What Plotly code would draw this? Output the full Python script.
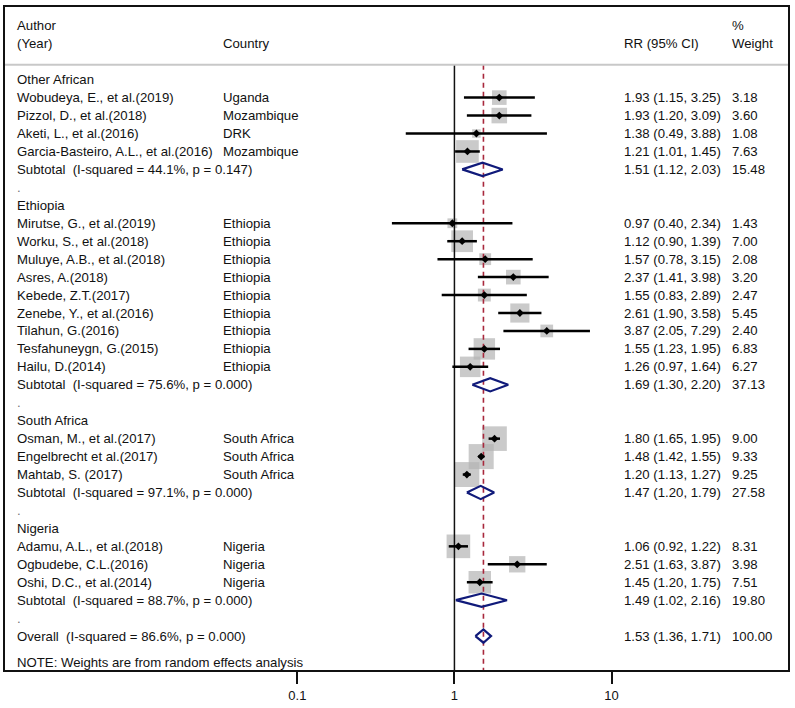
import plotly.graph_objects as go
import math

# ---------------- data ----------------
groups = ["Other African", "Ethiopia", "South Africa", "Nigeria"]

authors = [
    ["Wobudeya, E., et al.(2019)", "Pizzol, D., et al.(2018)", "Aketi, L., et al.(2016)",
     "Garcia-Basteiro, A.L., et al.(2016)"],
    ["Mirutse, G., et al.(2019)", "Worku, S., et al.(2018)", "Muluye, A.B., et al.(2018)",
     "Asres, A.(2018)", "Kebede, Z.T.(2017)", "Zenebe, Y., et al.(2016)", "Tilahun, G.(2016)",
     "Tesfahuneygn, G.(2015)", "Hailu, D.(2014)"],
    ["Osman, M., et al.(2017)", "Engelbrecht et al.(2017)", "Mahtab, S. (2017)"],
    ["Adamu, A.L., et al.(2018)", "Ogbudebe, C.L.(2016)", "Oshi, D.C., et al.(2014)"],
]
countries = [
    ["Uganda", "Mozambique", "DRK", "Mozambique"],
    ["Ethiopia"] * 9,
    ["South Africa"] * 3,
    ["Nigeria"] * 3,
]
rr = [
    [1.93, 1.93, 1.38, 1.21],
    [0.97, 1.12, 1.57, 2.37, 1.55, 2.61, 3.87, 1.55, 1.26],
    [1.80, 1.48, 1.20],
    [1.06, 2.51, 1.45],
]
lo = [
    [1.15, 1.20, 0.49, 1.01],
    [0.40, 0.90, 0.78, 1.41, 0.83, 1.90, 2.05, 1.23, 0.97],
    [1.65, 1.42, 1.13],
    [0.92, 1.63, 1.20],
]
hi = [
    [3.25, 3.09, 3.88, 1.45],
    [2.34, 1.39, 3.15, 3.98, 2.89, 3.58, 7.29, 1.95, 1.64],
    [1.95, 1.55, 1.27],
    [1.22, 3.87, 1.75],
]
weight = [
    [3.18, 3.60, 1.08, 7.63],
    [1.43, 7.00, 2.08, 3.20, 2.47, 5.45, 2.40, 6.83, 6.27],
    [9.00, 9.33, 9.25],
    [8.31, 3.98, 7.51],
]
sub_i2 = [44.1, 75.6, 97.1, 88.7]
sub_p = [0.147, 0.000, 0.000, 0.000]
sub_rr = [1.51, 1.69, 1.47, 1.49]
sub_lo = [1.12, 1.30, 1.20, 1.02]
sub_hi = [2.03, 2.20, 1.79, 2.16]
sub_w = [15.48, 37.13, 27.58, 19.80]

overall_i2, overall_p = 86.6, 0.000
overall_rr, overall_lo, overall_hi, overall_w = 1.53, 1.36, 1.71, 100.00

tick_vals = [0.1, 1, 10]
tick_text = ["0.1", "1", "10"]

# ---------------- layout constants ----------------
W, H = 795, 708
ML, MR, MT, MB = 5, 6, 5, 37
PX_L, PX_R = ML, W - MR
ROW0_PX, ROW_H = 78, 18.03
X1_PX, DEC_PX = 455, 157.3


def px_to_paper(px):
    return (px - PX_L) / (PX_R - PX_L)


def py_to_row(py):
    return (py - ROW0_PX) / ROW_H


x_range = [(PX_L - X1_PX) / DEC_PX, (PX_R - X1_PX) / DEC_PX]
y_top = py_to_row(MT)
y_bot = py_to_row(H - MB)
sep_row = py_to_row(63)

COL_AUTH = px_to_paper(15)
COL_CTRY = px_to_paper(221)
COL_RR = px_to_paper(623)
COL_W = px_to_paper(731)

FONT = "Liberation Sans, Arial, sans-serif"
FS = 13.2
TXT = "#111111"

annotations = []


def txt(xp, y, s, color=TXT):
    annotations.append(dict(x=xp, y=y, xref="paper", yref="y", text=s, showarrow=False,
                            xanchor="left", yanchor="middle",
                            font=dict(family=FONT, size=FS, color=color)))


# headers
txt(COL_AUTH, py_to_row(24), "Author")
txt(COL_AUTH, py_to_row(42), "(Year)")
txt(COL_CTRY, py_to_row(42), "Country")
txt(COL_RR, py_to_row(42), "RR (95% CI)")
txt(COL_W, py_to_row(24), "%")
txt(COL_W, py_to_row(42), "Weight")

box_x, box_y, box_s = [], [], []
ci_x, ci_y = [], []
pt_x, pt_y = [], []
dia_x, dia_y = [], []
DH = 0.37


def diamond(est, l, h, y):
    dia_x.extend([l, est, h, est, l, None])
    dia_y.extend([y, y - DH, y, y + DH, y, None])


row = 0
for g in range(len(groups)):
    txt(COL_AUTH, row, groups[g])
    row += 1
    for k in range(len(authors[g])):
        txt(COL_AUTH, row, authors[g][k])
        txt(COL_CTRY, row, countries[g][k])
        txt(COL_RR, row, f"{rr[g][k]:.2f} ({lo[g][k]:.2f}, {hi[g][k]:.2f})")
        txt(COL_W, row, f"{weight[g][k]:.2f}")
        box_x.append(rr[g][k]); box_y.append(row)
        box_s.append(8.2 * math.sqrt(weight[g][k]))
        ci_x.extend([lo[g][k], hi[g][k], None]); ci_y.extend([row, row, None])
        pt_x.append(rr[g][k]); pt_y.append(row)
        row += 1
    txt(COL_AUTH, row, f"Subtotal  (I-squared = {sub_i2[g]:.1f}%, p = {sub_p[g]:.3f})")
    txt(COL_RR, row, f"{sub_rr[g]:.2f} ({sub_lo[g]:.2f}, {sub_hi[g]:.2f})")
    txt(COL_W, row, f"{sub_w[g]:.2f}")
    diamond(sub_rr[g], sub_lo[g], sub_hi[g], row)
    row += 1
    txt(COL_AUTH, row, ".", color="#777777")
    row += 1

txt(COL_AUTH, row, f"Overall  (I-squared = {overall_i2:.1f}%, p = {overall_p:.3f})")
txt(COL_RR, row, f"{overall_rr:.2f} ({overall_lo:.2f}, {overall_hi:.2f})")
txt(COL_W, row, f"{overall_w:.2f}")
diamond(overall_rr, overall_lo, overall_hi, row)
txt(COL_AUTH, py_to_row(663), "NOTE: Weights are from random effects analysis")

fig = go.Figure()
fig.add_trace(go.Scatter(x=box_x, y=box_y, mode="markers", hoverinfo="skip",
                         marker=dict(symbol="square", size=box_s, color="#b3b3b3",
                                     line=dict(width=0))))
fig.add_trace(go.Scatter(x=[1, 1], y=[sep_row, y_bot], mode="lines", hoverinfo="skip",
                         line=dict(color="#111111", width=1.5)))
fig.add_trace(go.Scatter(x=[overall_rr, overall_rr], y=[sep_row, y_bot], mode="lines",
                         hoverinfo="skip",
                         line=dict(color="#a8283c", width=1.6, dash="5px,4px")))
fig.add_trace(go.Scatter(x=ci_x, y=ci_y, mode="lines", hoverinfo="skip",
                         line=dict(color="#000000", width=2.5)))
fig.add_trace(go.Scatter(x=pt_x, y=pt_y, mode="markers", hoverinfo="skip",
                         marker=dict(symbol="diamond", size=6, color="#000000",
                                     line=dict(width=0))))
fig.add_trace(go.Scatter(x=dia_x, y=dia_y, mode="lines", hoverinfo="skip",
                         line=dict(color="#101a7a", width=2.2)))

fig.add_shape(type="line", xref="paper", yref="y", x0=0, x1=1, y0=sep_row, y1=sep_row,
              line=dict(color="#c8c8c8", width=2))

fig.update_layout(
    width=W, height=H, showlegend=False,
    margin=dict(l=ML, r=MR, t=MT, b=MB),
    paper_bgcolor="white", plot_bgcolor="white",
    annotations=annotations,
    xaxis=dict(type="log", range=x_range, tickvals=tick_vals, ticktext=tick_text,
               showgrid=False, zeroline=False, showline=True, mirror=True,
               linecolor="#111111", linewidth=2, ticks="outside", ticklen=12,
               tickwidth=2, tickcolor="#111111",
               tickfont=dict(family=FONT, size=13, color=TXT)),
    yaxis=dict(range=[y_bot, y_top], showgrid=False, zeroline=False, showline=True,
               mirror=True, linecolor="#111111", linewidth=2, showticklabels=False,
               ticks=""),
)

fig.write_html("out.html", config={"displayModeBar": False},
               post_script="document.body.style.margin='0';document.body.style.overflow='hidden';")
